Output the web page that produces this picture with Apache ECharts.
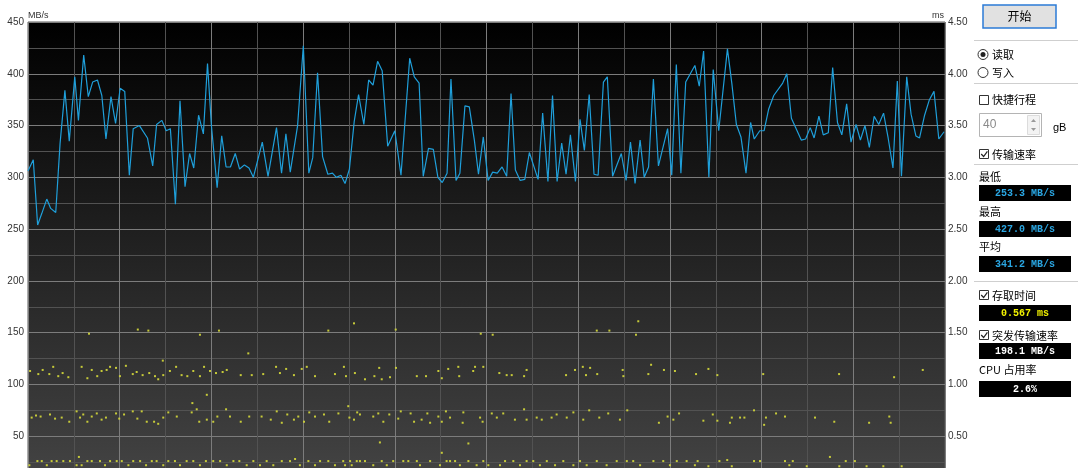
<!DOCTYPE html>
<html><head><meta charset="utf-8">
<script src="https://cdn.jsdelivr.net/npm/echarts@6/dist/echarts.min.js"></script>
<style>html,body{margin:0;padding:0;background:#fff;overflow:hidden;height:468px;}#c{width:1080px;height:488px;}</style>
</head><body><div id="c"></div>
<script>
// Transfer rate (MB/s) along position (gB)
const readPos = [0.00,0.23,0.42,0.60,0.82,0.99,1.21,1.40,1.61,1.80,2.04,2.20,2.43,2.63,2.82,3.03,3.22,3.40,3.62,3.82,4.02,4.22,4.42,4.59,4.86,5.21,5.44,5.61,5.84,6.03,6.21,6.43,6.63,6.85,7.05,7.23,7.44,7.65,7.83,8.00,8.25,8.45,8.64,8.83,9.04,9.23,9.44,9.64,9.83,10.22,10.47,10.84,11.06,11.25,11.44,11.76,12.01,12.25,12.42,12.63,12.85,13.08,13.28,13.45,13.65,13.83,14.02,14.23,14.42,14.65,14.86,15.05,15.25,15.45,15.69,16.00,16.27,16.65,16.85,17.06,17.24,17.47,17.68,17.88,18.07,18.28,18.45,18.67,18.84,19.06,19.25,19.47,19.65,19.86,20.07,20.27,20.47,20.68,20.88,21.07,21.26,21.47,21.67,21.87,22.25,22.45,22.68,22.88,23.08,23.28,23.47,23.66,23.88,24.08,24.27,24.48,24.69,24.87,25.10,25.27,25.50,25.88,26.09,26.28,26.48,26.70,26.88,27.07,27.28,27.50,27.90,28.08,28.28,28.48,28.69,29.09,29.28,29.47,29.70,29.89,30.13,30.51,30.70,30.90,31.10,31.32,31.52,31.68,31.92,32.11,32.31,32.53,32.92,33.10,33.30,33.73,33.92,34.12,34.29,34.50,34.69,34.91,35.10,35.31,35.50,35.71,35.90,36.12,36.31,36.51,36.70,36.91,37.11,37.32,37.52,37.73,37.92,38.10,38.33,38.52,38.73,38.89,39.11,39.32,39.52,39.73,39.96];
const readSpeed = [306,317,254,265,279,270,266,333,384,335,397,355,418,378,392,394,379,337,378,352,386,383,302,347,350,338,311,351,355,345,347,274,374,291,323,309,360,342,410,350,290,340,310,310,323,308,312,309,300,334,301,348,304,342,305,350,427,304,319,401,320,303,304,300,302,294,308,354,380,351,394,389,412,403,330,345,302,415,397,391,301,328,327,300,295,304,395,297,304,369,368,336,303,339,297,305,304,310,301,381,307,297,298,324,298,362,296,379,296,333,303,341,296,356,326,380,303,302,392,397,301,323,297,334,294,336,300,310,395,311,347,302,409,304,392,408,388,422,300,404,345,424,391,351,339,304,353,337,345,345,366,379,391,400,357,336,337,348,338,359,341,343,406,353,341,371,334,351,336,350,329,359,351,362,338,309,393,301,397,361,340,338,360,375,383,337,344];

// Access time (ms) samples: position (gB) and time
const accessPos = [
 0.09,0.45,0.64,0.93,1.10,1.32,1.51,1.76,2.34,2.59,2.78,3.02,3.21,3.43,3.58,3.84,4.01,4.27,4.57,4.74,5.00,5.29,5.54,5.68,5.90,6.19,6.46,6.70,6.95,7.21,7.50,7.68,7.94,8.20,8.49,8.67,9.28,9.76,10.26,10.82,10.99,11.26,11.60,11.94,12.16,12.52,13.39,13.78,13.87,14.26,14.70,15.11,15.32,15.43,15.79,16.05,16.96,17.36,17.90,18.05,18.33,18.77,18.81,19.42,19.50,19.86,20.56,20.88,21.10,21.64,21.75,23.47,23.86,24.20,24.34,24.52,24.83,25.94,25.97,27.06,27.18,27.74,28.22,29.14,29.68,30.07,32.07,35.38,37.78,39.03,
 0.16,0.35,0.55,0.96,1.18,1.47,1.80,2.12,2.27,2.41,2.59,2.78,3.00,3.21,3.40,3.84,3.98,4.19,4.57,4.77,4.96,5.18,5.50,5.68,5.90,6.12,6.49,7.14,7.36,7.47,7.80,8.08,8.26,8.64,8.81,9.28,9.65,10.19,10.59,10.85,11.07,11.31,11.60,11.79,12.04,12.27,12.52,12.91,13.14,13.54,14.02,14.22,14.36,14.48,15.06,15.28,15.50,15.76,16.15,16.26,16.69,16.84,17.17,17.42,17.54,17.90,18.05,18.23,18.41,18.96,18.99,19.72,19.83,20.23,20.45,20.73,21.24,21.64,21.75,22.19,22.41,22.84,23.06,23.50,23.79,24.22,24.48,24.92,25.31,25.82,26.14,27.52,27.90,28.15,28.40,29.46,29.87,30.07,30.62,30.70,31.06,31.25,31.67,32.11,32.19,32.63,33.02,34.33,35.17,36.69,37.57,37.63,
 2.66,4.79,5.25,5.88,7.17,7.50,7.80,8.33,9.61,13.10,13.97,14.22,15.35,16.04,18.05,19.21,19.75,20.27,24.81,25.36,26.52,26.62,2.22,
 0.06,0.41,0.60,0.82,1.03,1.25,1.54,1.83,2.12,2.34,2.59,2.78,3.14,3.36,3.58,3.87,4.09,4.38,4.59,4.89,5.15,5.40,5.61,5.90,6.12,6.41,6.63,6.92,7.21,7.50,7.76,8.08,8.38,8.67,8.96,9.22,9.54,9.83,10.12,10.41,10.70,11.07,11.43,11.65,11.86,12.23,12.52,12.74,13.10,13.39,13.75,14.12,14.34,
 13.83,14.05,14.48,14.70,15.06,15.43,15.65,15.93,16.37,16.59,16.96,17.10,17.54,17.97,18.26,18.41,18.63,18.84,19.21,19.57,19.86,20.08,20.59,20.81,21.17,21.46,21.75,22.04,22.33,22.63,22.99,23.35,23.79,24.08,24.37,24.81,25.24,25.68,26.12,26.40,26.70,27.28,27.71,28.00,28.30,28.73,29.09,
 29.21,29.68,30.16,30.50,30.70,31.67,31.93,33.02,33.21,33.36,33.97,34.98,35.39,35.67,36.07,36.58,37.31,38.11];
const accessTime = [
 1.13,1.10,1.14,1.10,1.17,1.08,1.11,1.07,1.17,1.06,1.14,1.08,1.13,1.14,1.17,1.16,1.08,1.18,1.10,1.12,1.09,1.11,1.08,1.05,1.09,1.13,1.17,1.09,1.08,1.13,1.08,1.17,1.13,1.11,1.12,1.14,1.09,1.09,1.10,1.17,1.11,1.15,1.09,1.15,1.17,1.08,1.10,1.17,1.08,1.11,1.05,1.08,1.16,1.05,1.07,1.16,1.08,1.08,1.13,1.06,1.15,1.17,1.08,1.13,1.17,1.17,1.11,1.09,1.09,1.08,1.14,1.09,1.14,1.17,1.09,1.16,1.10,1.14,1.08,1.10,1.19,1.14,1.13,1.10,1.15,1.09,1.10,1.10,1.07,1.14,
 0.68,0.70,0.69,0.71,0.67,0.68,0.64,0.74,0.68,0.71,0.64,0.69,0.72,0.66,0.68,0.72,0.67,0.71,0.74,0.67,0.74,0.64,0.64,0.62,0.68,0.73,0.69,0.73,0.76,0.64,0.66,0.64,0.69,0.76,0.69,0.64,0.69,0.69,0.66,0.74,0.63,0.71,0.66,0.69,0.64,0.73,0.69,0.71,0.64,0.72,0.68,0.66,0.73,0.71,0.69,0.72,0.64,0.71,0.67,0.74,0.72,0.64,0.66,0.72,0.63,0.69,0.64,0.74,0.68,0.63,0.73,0.68,0.64,0.72,0.68,0.72,0.66,0.76,0.66,0.68,0.66,0.68,0.71,0.68,0.73,0.66,0.75,0.68,0.72,0.66,0.75,0.63,0.69,0.66,0.72,0.65,0.71,0.65,0.63,0.68,0.68,0.68,0.75,0.61,0.68,0.72,0.69,0.68,0.64,0.63,0.69,0.63,
 1.49,1.53,1.52,1.23,0.82,1.48,0.90,1.52,1.30,1.52,0.79,1.59,0.44,1.53,0.34,0.43,1.49,1.48,1.52,1.52,1.48,1.61,0.30,
 0.22,0.26,0.26,0.22,0.26,0.26,0.26,0.26,0.22,0.22,0.26,0.26,0.26,0.22,0.26,0.26,0.26,0.22,0.26,0.26,0.22,0.26,0.26,0.22,0.26,0.26,0.22,0.26,0.26,0.22,0.26,0.26,0.26,0.22,0.26,0.26,0.22,0.26,0.22,0.26,0.22,0.26,0.26,0.28,0.22,0.26,0.22,0.26,0.26,0.22,0.26,0.22,0.26,
 0.22,0.26,0.26,0.26,0.22,0.26,0.22,0.26,0.26,0.26,0.26,0.22,0.26,0.22,0.26,0.26,0.26,0.22,0.26,0.22,0.26,0.22,0.22,0.26,0.26,0.22,0.26,0.26,0.22,0.26,0.22,0.26,0.22,0.26,0.22,0.26,0.22,0.26,0.26,0.26,0.22,0.26,0.26,0.22,0.26,0.26,0.22,
 0.26,0.21,0.26,0.27,0.21,0.26,0.26,0.26,0.22,0.26,0.21,0.30,0.21,0.26,0.26,0.21,0.21,0.21];

const speedTicks = [0,50,100,150,200,250,300,350,400,450];
const timeTicks = [0,0.5,1,1.5,2,2.5,3,3.5,4,4.5];

const stats = {min:'253.3 MB/s', max:'427.0 MB/s', avg:'341.2 MB/s', access:'0.567 ms', burst:'198.1 MB/s', cpu:'2.6%'};

const chart = echarts.init(document.getElementById('c'), null, {renderer:'canvas'});

const lineData = readPos.map((p,i)=>[p, readSpeed[i]]);
const dotData = accessPos.map((p,i)=>[p, accessTime[i]]);

const cjk = '"Noto Sans CJK SC", sans-serif';
const txt = (x,y,s,extra)=>Object.assign({type:'text', x:x, y:y, style:Object.assign({text:s, fill:'#000', font:'11px '+cjk, textVerticalAlign:'middle', verticalAlign:'middle'}, extra||{})});
const lcd = (y,s,color)=>[
  {type:'rect', shape:{x:979, y:y, width:92, height:16}, style:{fill:'#000'}},
  {type:'text', x:1025, y:y+8, style:{text:s, fill:color, font:'bold 10px "Liberation Mono", monospace', align:'center', verticalAlign:'middle', textAlign:'center', textVerticalAlign:'middle'}}
];
const sep = (y)=>({type:'line', shape:{x1:974, y1:y, x2:1078, y2:y}, style:{stroke:'#cfcfcf', lineWidth:1}});
const box = (y)=>({type:'rect', shape:{x:979.5, y:y, width:9, height:9}, style:{fill:'#fff', stroke:'#333', lineWidth:1}});
const check = (y)=>({type:'polyline', shape:{points:[[981.2,y+4.5],[983.6,y+7],[987.4,y+1.8]]}, style:{stroke:'#222', lineWidth:1.2, fill:null}});

const graphics = [
  {type:'text', x:28, y:16, style:{text:'MB/s', fill:'#333', font:'9px "Liberation Sans", Arial', verticalAlign:'middle', textVerticalAlign:'middle'}},
  {type:'text', x:944, y:16, style:{text:'ms', fill:'#333', font:'9px "Liberation Sans", Arial', align:'right', textAlign:'right', verticalAlign:'middle', textVerticalAlign:'middle'}},
  {type:'rect', shape:{x:983, y:5, width:73, height:23}, style:{fill:'#e1e1e1', stroke:'#2b7bd6', lineWidth:1.5}},
  txt(1019.5,16.5,'开始',{align:'center', textAlign:'center', font:'12px '+cjk}),
  sep(40.5),
  {type:'circle', shape:{cx:983, cy:54.5, r:5}, style:{fill:'#fff', stroke:'#333', lineWidth:1}},
  {type:'circle', shape:{cx:983, cy:54.5, r:2.5}, style:{fill:'#222'}},
  txt(992,54.5,'读取'),
  {type:'circle', shape:{cx:983, cy:72.5, r:5}, style:{fill:'#fff', stroke:'#333', lineWidth:1}},
  txt(992,72.5,'写入'),
  sep(83.5),
  box(95.5), txt(992,100,'快捷行程'),
  {type:'rect', shape:{x:979.5, y:113.5, width:62, height:23}, style:{fill:'#fff', stroke:'#b4b4b4', lineWidth:1}},
  txt(983,125,'40',{fill:'#8a8a8a', font:'12px "Liberation Sans", Arial'}),
  {type:'rect', shape:{x:1027.5, y:115.5, width:12, height:19}, style:{fill:'#f3f3f3', stroke:'#dcdcdc', lineWidth:1}},
  {type:'polygon', shape:{points:[[1031,122],[1036,122],[1033.5,119]]}, style:{fill:'#999'}},
  {type:'polygon', shape:{points:[[1031,128],[1036,128],[1033.5,131]]}, style:{fill:'#999'}},
  txt(1053,127.5,'gB',{font:'11px "Liberation Sans", Arial'}),
  box(149.5), check(149.5), txt(992,154.5,'传输速率'),
  sep(164.5),
  txt(979,177,'最低'),
  ...lcd(185,stats.min,'#2aa6e2'),
  txt(979,212,'最高'),
  ...lcd(221,stats.max,'#2aa6e2'),
  txt(979,246.5,'平均'),
  ...lcd(256,stats.avg,'#2aa6e2'),
  sep(281.5),
  box(290.5), check(290.5), txt(992,295.5,'存取时间'),
  ...lcd(305,stats.access,'#f2f200'),
  box(330.5), check(330.5), txt(992,335.5,'突发传输速率'),
  ...lcd(343,stats.burst,'#ffffff'),
  txt(979,370,'CPU 占用率'),
  ...lcd(381,stats.cpu,'#ffffff')
];

chart.setOption({
  animation:false,
  backgroundColor:'#ffffff',
  grid:{left:28, right:135, top:22, bottom:0, show:true, borderColor:'#5a5a5a', borderWidth:1,
    backgroundColor: new echarts.graphic.LinearGradient(0,0,0,1,[{offset:0,color:'#000000'},{offset:1,color:'#454545'}])},
  xAxis:{type:'value', min:0, max:40, interval:4,
    axisLabel:{show:false}, axisTick:{show:false}, axisLine:{show:false},
    splitLine:{show:true, lineStyle:{color:'#7c7c7c', width:1}},
    minorTick:{show:false, splitNumber:2},
    minorSplitLine:{show:true, lineStyle:{color:'#525252', width:1}}},
  yAxis:[
    {type:'value', min:speedTicks[0], max:speedTicks[speedTicks.length-1], interval:50, position:'left',
     axisLine:{show:false}, axisTick:{show:false},
     axisLabel:{color:'#333', fontSize:10, fontFamily:'"Liberation Sans", Arial', margin:4,
       formatter:(v)=> v===0 ? '' : String(v)},
     splitLine:{show:true, lineStyle:{color:'#7c7c7c', width:1}},
     minorTick:{show:false, splitNumber:2},
     minorSplitLine:{show:true, lineStyle:{color:'#525252', width:1}}},
    {type:'value', min:timeTicks[0], max:timeTicks[timeTicks.length-1], interval:0.5, position:'right',
     axisLine:{show:false}, axisTick:{show:false},
     axisLabel:{color:'#333', fontSize:10, fontFamily:'"Liberation Sans", Arial', margin:3,
       formatter:(v)=> v===0 ? '' : v.toFixed(2)},
     splitLine:{show:false}}
  ],
  series:[
    {type:'scatter', yAxisIndex:1, data:dotData, symbol:'rect', symbolSize:2, silent:true,
     itemStyle:{color:'#cfd33a', opacity:0.95}, z:2},
    {type:'line', yAxisIndex:0, data:lineData, showSymbol:false, symbol:'none', silent:true,
     lineStyle:{color:'#1f9fda', width:1.2}, z:3}
  ],
  graphic:graphics
});
</script></body></html>
